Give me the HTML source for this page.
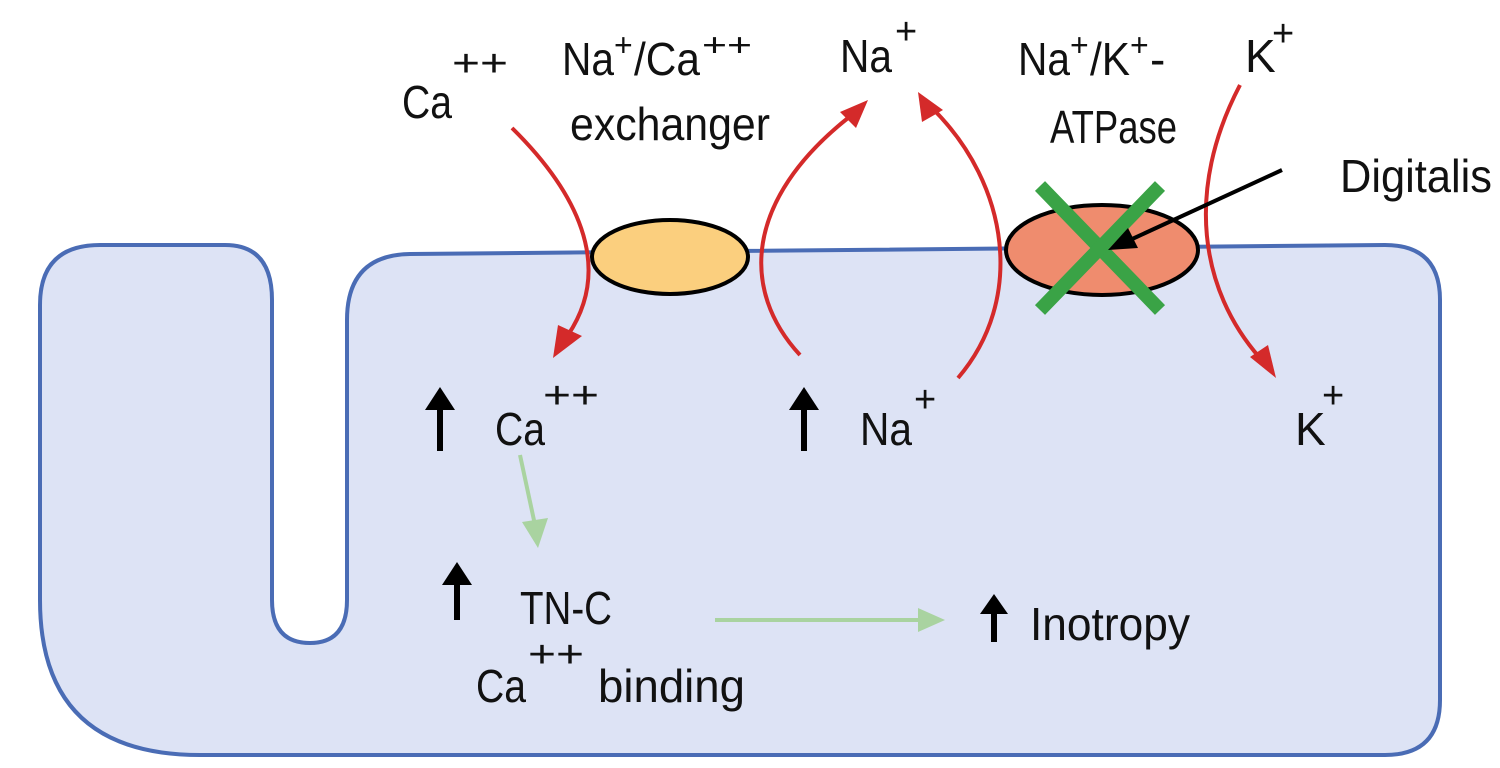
<!DOCTYPE html>
<html><head><meta charset="utf-8"><style>
html,body{margin:0;padding:0;background:#fff;}
svg{display:block;}
text{font-family:"Liberation Sans",sans-serif;fill:#111;}
</style></head><body>
<svg width="1500" height="768" viewBox="0 0 1500 768" xmlns="http://www.w3.org/2000/svg">
<path d="M40,305 Q40,245 100,245 L225,245 Q272,245 272,300 L272,600 Q272,643 310,643 Q347,643 347,600 L347,320 Q347,255 410,254 L1385,245 Q1440,245 1440,300 L1440,700 Q1440,755 1385,755 L200,755 Q40,755 40,600 Z" fill="#dde3f5" stroke="#4a6cb5" stroke-width="4"/>
<g fill="none" stroke="#d42a2a" stroke-width="4">
<path d="M512,128 C575,190 615,265 568,335"/>
<path d="M800,355 C740,290 745,200 848,118"/>
<path d="M958,378 C1025,300 1010,185 932,108"/>
<path d="M1240,85 C1185,190 1200,290 1260,358"/>
</g>
<g fill="#d42a2a">
<polygon points="553,358 558,325 582,336"/>
<polygon points="868,100 840,112 856,128"/>
<polygon points="918,92 922,122 943,110"/>
<polygon points="1276,378 1250,357 1268,345"/>
</g>
<ellipse cx="670" cy="257" rx="78" ry="37" fill="#fbcf7e" stroke="#000" stroke-width="4"/>
<ellipse cx="1102" cy="250" rx="96" ry="45" fill="#ef8c6e" stroke="#000" stroke-width="4"/>
<g stroke="#3aa346" stroke-width="14">
<line x1="1040" y1="186" x2="1160" y2="310"/>
<line x1="1160" y1="186" x2="1040" y2="310"/>
</g>
<line x1="1282" y1="170" x2="1130" y2="240" stroke="#000" stroke-width="4"/>
<polygon points="1108,250 1128,228 1138,248" fill="#000"/>
<g stroke="#a9d3a0" stroke-width="4" fill="#a9d3a0">
<line x1="520" y1="455" x2="535" y2="525"/>
<polygon points="538,548 522,522 548,518" stroke="none"/>
<line x1="715" y1="620" x2="920" y2="620"/>
<polygon points="945,620 918,608 918,632" stroke="none"/>
</g>
<g fill="#000">
<rect x="437" y="403" width="6" height="48"/><polygon points="425,410 440,387 455,410"/>
<rect x="801" y="403" width="6" height="48"/><polygon points="789,410 804,387 819,410"/>
<rect x="454" y="578" width="6" height="42"/><polygon points="442,585 457,562 472,585"/>
<rect x="991" y="608" width="6" height="34"/><polygon points="980,614 994,594 1008,614"/>
</g>
<g font-size="46">
<text x="402" y="118" textLength="50" lengthAdjust="spacingAndGlyphs">Ca</text><text x="452" y="76" font-size="38" textLength="56" lengthAdjust="spacingAndGlyphs">++</text>
<text x="562" y="75" textLength="52" lengthAdjust="spacingAndGlyphs">Na</text><text x="614" y="56" font-size="32">+</text><text x="634" y="75" textLength="66" lengthAdjust="spacingAndGlyphs">/Ca</text><text x="702" y="56" font-size="32" textLength="50" lengthAdjust="spacingAndGlyphs">++</text>
<text x="570" y="140" textLength="200" lengthAdjust="spacingAndGlyphs">exchanger</text>
<text x="840" y="72" textLength="52" lengthAdjust="spacingAndGlyphs">Na</text><text x="895" y="44" font-size="38">+</text>
<text x="1018" y="75" textLength="52" lengthAdjust="spacingAndGlyphs">Na</text><text x="1070" y="56" font-size="32">+</text><text x="1090" y="75" textLength="40" lengthAdjust="spacingAndGlyphs">/K</text><text x="1130" y="56" font-size="32">+</text><text x="1150" y="75">-</text>
<text x="1050" y="143" textLength="127" lengthAdjust="spacingAndGlyphs">ATPase</text>
<text x="1245" y="72">K</text><text x="1272" y="46" font-size="38">+</text>
<text x="1340" y="192" textLength="152" lengthAdjust="spacingAndGlyphs">Digitalis</text>
<text x="495" y="445" textLength="50" lengthAdjust="spacingAndGlyphs">Ca</text><text x="543" y="408" font-size="38" textLength="56" lengthAdjust="spacingAndGlyphs">++</text>
<text x="860" y="445" textLength="52" lengthAdjust="spacingAndGlyphs">Na</text><text x="914" y="412" font-size="38">+</text>
<text x="1295" y="445">K</text><text x="1322" y="408" font-size="38">+</text>
<text x="520" y="624" textLength="92" lengthAdjust="spacingAndGlyphs">TN-C</text>
<text x="476" y="702" textLength="50" lengthAdjust="spacingAndGlyphs">Ca</text><text x="528" y="667" font-size="38" textLength="56" lengthAdjust="spacingAndGlyphs">++</text><text x="598" y="702" textLength="147" lengthAdjust="spacingAndGlyphs">binding</text>
<text x="1030" y="640" textLength="160" lengthAdjust="spacingAndGlyphs">Inotropy</text>
</g>
</svg>
</body></html>
